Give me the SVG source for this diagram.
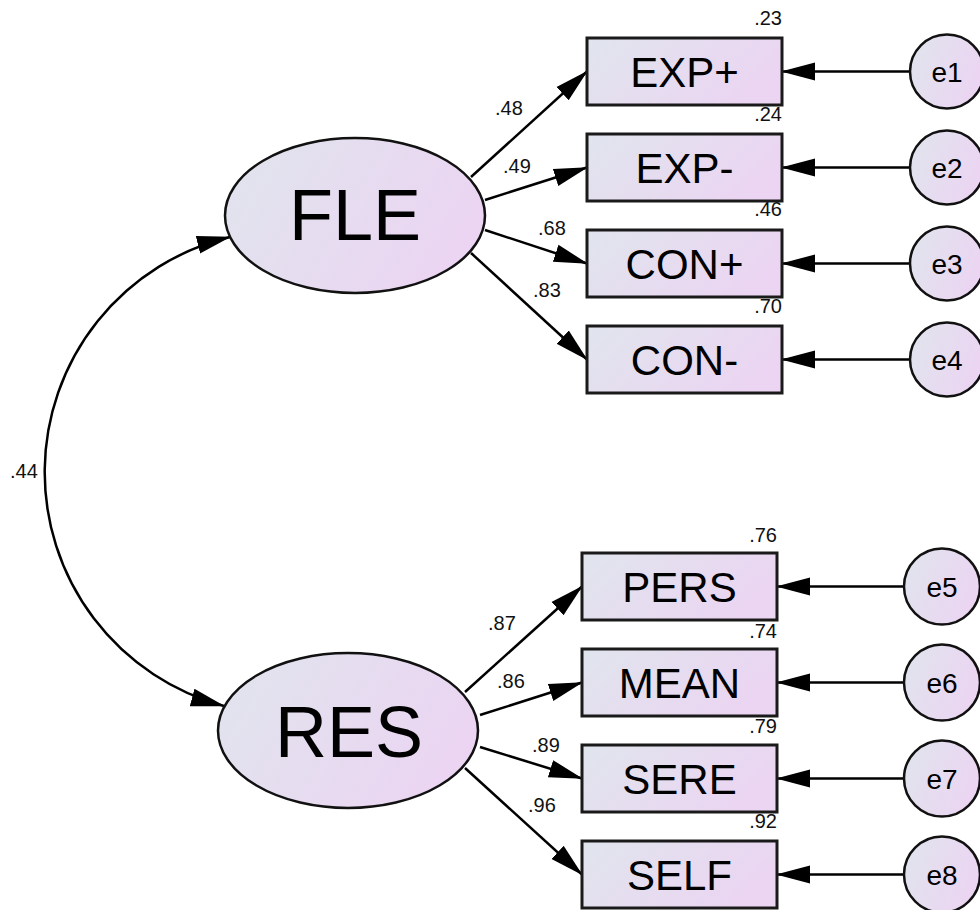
<svg xmlns="http://www.w3.org/2000/svg" width="980" height="910" viewBox="0 0 980 910">
<defs>
<linearGradient id="g" x1="0" y1="0" x2="1" y2="0.35">
<stop offset="0" stop-color="#e0e5ed"/>
<stop offset="1" stop-color="#ebd5f2"/>
</linearGradient>
<marker id="ah" markerUnits="userSpaceOnUse" markerWidth="34" markerHeight="20" viewBox="0 0 34 20" refX="33" refY="10" orient="auto-start-reverse">
<path d="M0,1 L34,10 L0,19 z" fill="#000"/>
</marker>
<style>
.box{fill:url(#g);stroke:#1a1a1a;stroke-width:3}
.lat{fill:url(#g);stroke:#111;stroke-width:2.5}
.err{fill:url(#g);stroke:#111;stroke-width:2.5}
.lbl{font-family:"Liberation Sans",Arial,sans-serif;font-size:42px;fill:#000;text-anchor:middle}
.big{font-family:"Liberation Sans",Arial,sans-serif;font-size:72px;fill:#000;text-anchor:middle}
.elbl{font-family:"Liberation Sans",Arial,sans-serif;font-size:28px;fill:#000;text-anchor:middle}
.num{font-family:"Liberation Sans",Arial,sans-serif;font-size:20px;fill:#111}
.r2{text-anchor:end}
.c{fill:none;stroke:#000;stroke-width:2.5}
.a{marker-end:url(#ah)}
</style>
</defs>
<rect width="980" height="910" fill="#fff"/>

<g id="r2labels">
<text class="num r2" x="782" y="25">.23</text>
<text class="num r2" x="782" y="121">.24</text>
<text class="num r2" x="782" y="216">.46</text>
<text class="num r2" x="782" y="313">.70</text>
<text class="num r2" x="777" y="542">.76</text>
<text class="num r2" x="777" y="638">.74</text>
<text class="num r2" x="777" y="733">.79</text>
<text class="num r2" x="777" y="828">.92</text>
</g>

<g id="connectors">
<path class="c" d="M 230 237 A 242 242 0 0 0 224 706" marker-start="url(#ah)" marker-end="url(#ah)"/>
<path class="c a" d="M 471 177 L 587 71.5"/>
<path class="c a" d="M 485 200 L 587 167.5"/>
<path class="c a" d="M 485 230 L 587 263.5"/>
<path class="c a" d="M 471 253 L 587 359.5"/>
<path class="c a" d="M 465 692 L 582 586.5"/>
<path class="c a" d="M 480 715 L 582 682.5"/>
<path class="c a" d="M 480 747 L 582 778.5"/>
<path class="c a" d="M 465 768 L 582 874.5"/>
<path class="c a" d="M 910 71.5 L 782 71.5"/>
<path class="c a" d="M 910 167.5 L 782 167.5"/>
<path class="c a" d="M 910 263.5 L 782 263.5"/>
<path class="c a" d="M 910 359.5 L 782 359.5"/>
<path class="c a" d="M 904 586.5 L 777 586.5"/>
<path class="c a" d="M 904 682.5 L 777 682.5"/>
<path class="c a" d="M 904 778.5 L 777 778.5"/>
<path class="c a" d="M 904 874.5 L 777 874.5"/>
<text class="num" x="10" y="478">.44</text>
<text class="num" x="495" y="115">.48</text>
<text class="num" x="503" y="173">.49</text>
<text class="num" x="538" y="235">.68</text>
<text class="num" x="533" y="297">.83</text>
<text class="num" x="488" y="630">.87</text>
<text class="num" x="497" y="688">.86</text>
<text class="num" x="532" y="752">.89</text>
<text class="num" x="528" y="812">.96</text>
</g>

<g id="FLE"><ellipse class="lat" cx="355" cy="215.5" rx="130" ry="77.5"/><text class="big" x="355" y="240">FLE</text></g>
<g id="RES"><ellipse class="lat" cx="348" cy="730.5" rx="130" ry="77.5"/><text class="big" x="349" y="757">RES</text></g>

<g id="EXPp"><rect class="box" x="587" y="38" width="195" height="67"/><text class="lbl" x="684.5" y="86.5">EXP+</text></g>
<g id="EXPm"><rect class="box" x="587" y="134" width="195" height="67"/><text class="lbl" x="684.5" y="182.5">EXP-</text></g>
<g id="CONp"><rect class="box" x="587" y="230" width="195" height="67"/><text class="lbl" x="684.5" y="278.5">CON+</text></g>
<g id="CONm"><rect class="box" x="587" y="326" width="195" height="67"/><text class="lbl" x="684.5" y="374.5">CON-</text></g>
<g id="PERS"><rect class="box" x="582" y="553" width="195" height="67"/><text class="lbl" x="679.5" y="601.5">PERS</text></g>
<g id="MEAN"><rect class="box" x="582" y="649" width="195" height="67"/><text class="lbl" x="679.5" y="697.5">MEAN</text></g>
<g id="SERE"><rect class="box" x="582" y="745" width="195" height="67"/><text class="lbl" x="679.5" y="793.5">SERE</text></g>
<g id="SELF"><rect class="box" x="582" y="841" width="195" height="67"/><text class="lbl" x="679.5" y="889.5">SELF</text></g>

<g id="e1"><circle class="err" cx="947" cy="71.5" r="37"/><text class="elbl" x="947" y="81.5">e1</text></g>
<g id="e2"><circle class="err" cx="947" cy="167.5" r="37"/><text class="elbl" x="947" y="177.5">e2</text></g>
<g id="e3"><circle class="err" cx="947" cy="263.5" r="37"/><text class="elbl" x="947" y="273.5">e3</text></g>
<g id="e4"><circle class="err" cx="947" cy="359.5" r="37"/><text class="elbl" x="947" y="369.5">e4</text></g>
<g id="e5"><circle class="err" cx="942" cy="586.5" r="38"/><text class="elbl" x="942" y="596.5">e5</text></g>
<g id="e6"><circle class="err" cx="942" cy="682.5" r="38"/><text class="elbl" x="942" y="692.5">e6</text></g>
<g id="e7"><circle class="err" cx="942" cy="778.5" r="38"/><text class="elbl" x="942" y="788.5">e7</text></g>
<g id="e8"><circle class="err" cx="942" cy="874.5" r="38"/><text class="elbl" x="942" y="884.5">e8</text></g>
</svg>
